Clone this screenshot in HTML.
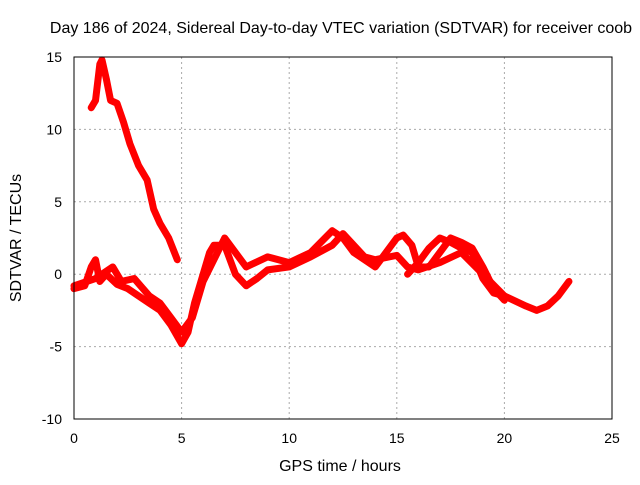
<!DOCTYPE html>
<html><head><meta charset="utf-8"><style>
body{margin:0;background:#fff}
svg text{font-family:"Liberation Sans",sans-serif;font-size:14px;fill:#000}
svg text.big{font-size:16px}
</style></head><body>
<svg id="chart" width="640" height="480" viewBox="0 0 640 480" xmlns="http://www.w3.org/2000/svg">
<rect width="640" height="480" fill="#fff"/>
<text class="big" x="341" y="33" text-anchor="middle">Day 186 of 2024, Sidereal Day-to-day VTEC variation (SDTVAR) for receiver coob</text>
<g id="grid"></g>
<g id="ticks"></g>
<g id="series"></g>
<rect x="74" y="57" width="538" height="362" fill="none" stroke="#000" stroke-width="1"/>
<text class="big" x="340" y="471" text-anchor="middle">GPS time / hours</text>
<text class="big" transform="translate(21,238) rotate(-90)" text-anchor="middle">SDTVAR / TECUs</text>
</svg>
<script>
const xTicks=[0,5,10,15,20,25];
const yTicks=[-10,-5,0,5,10,15];
const arcA=[[0.8,11.5],[1.0,12],[1.2,14.5],[1.3,14.8],[1.5,13.5],[1.7,12],[2.0,11.8],[2.3,10.5],[2.6,9],[3.0,7.5],[3.4,6.5],[3.7,4.5],[4.0,3.5],[4.4,2.5],[4.8,1]];
const arcB=[[0,-1],[0.5,-0.8],[0.8,0.5],[1.0,1],[1.2,-0.5],[1.5,0],[2,-0.7],[2.5,-1],[3,-1.5],[3.5,-2],[4,-2.5],[4.5,-3.5],[5,-4.8],[5.3,-4],[5.6,-2],[6,0],[6.3,1.5],[6.5,2],[7,2],[7.5,0],[8,-0.8],[8.5,-0.3],[9,0.3],[10,0.5],[11,1.2],[12,2],[12.5,2.8],[13,2],[13.5,1.2],[14,1],[15,1.3],[15.5,0.5],[16,0.3],[17,0.8],[18,1.5],[19,0],[20,-1.5],[21,-2.2],[21.5,-2.5],[22,-2.2],[22.5,-1.5],[23,-0.5]];
const arcC=[[0,-0.8],[1,-0.3],[1.8,0.5],[2.2,-0.5],[2.8,-0.3],[3.5,-1.5],[4,-2],[4.5,-3],[5,-4],[5.5,-3],[6,-0.5],[6.5,1],[7,2.5],[7.5,1.5],[8,0.5],[9,1.2],[10,0.8],[11,1.5],[12,3],[12.5,2.5],[13,1.5],[14,0.5],[15,2.5],[15.3,2.7],[15.7,2],[16,0.5],[16.5,0.5],[17,1.5],[17.5,2.5],[18,2.2],[18.5,1.8],[19,0.5],[19.5,-1],[20,-1.8]];
const arcD=[[15.5,0],[16,0.8],[16.5,1.8],[17,2.5],[17.5,2.2],[18,1.8],[18.5,1.5],[19,-0.3],[19.5,-1.3],[20,-1.5]];
const NS="http://www.w3.org/2000/svg";
const X=v=>74+v*538/25, Y=v=>419-(v+10)*362/25;
const grid=document.getElementById('grid'),ticks=document.getElementById('ticks'),series=document.getElementById('series');
function mk(t,a,p){const e=document.createElementNS(NS,t);for(const k in a)e.setAttribute(k,a[k]);p.appendChild(e);return e;}
xTicks.forEach(v=>{
  if(v>0&&v<25){const g=mk('line',{x1:X(v),x2:X(v),y1:57,y2:419,stroke:'#aaa','stroke-dasharray':'2,3'},grid);
  
  }
  const t=mk('text',{x:X(v),y:443,'text-anchor':'middle'},ticks);t.textContent=v;
  
  
});
yTicks.forEach(v=>{
  if(v>-10&&v<15){const g=mk('line',{x1:74,x2:612,y1:Y(v),y2:Y(v),stroke:'#aaa','stroke-dasharray':'2,3'},grid);
  
  }
  const t=mk('text',{x:62,y:Y(v)+5,'text-anchor':'end'},ticks);t.textContent=v;
  
  
});
[arcA,arcB,arcC,arcD].forEach(arc=>{
  const p=mk('polyline',{points:arc.map(d=>X(d[0])+','+Y(d[1])).join(' '),fill:'none',stroke:'#f00','stroke-width':7,'stroke-linejoin':'round','stroke-linecap':'round'},series);
  
  
});
</script>
</body></html>
